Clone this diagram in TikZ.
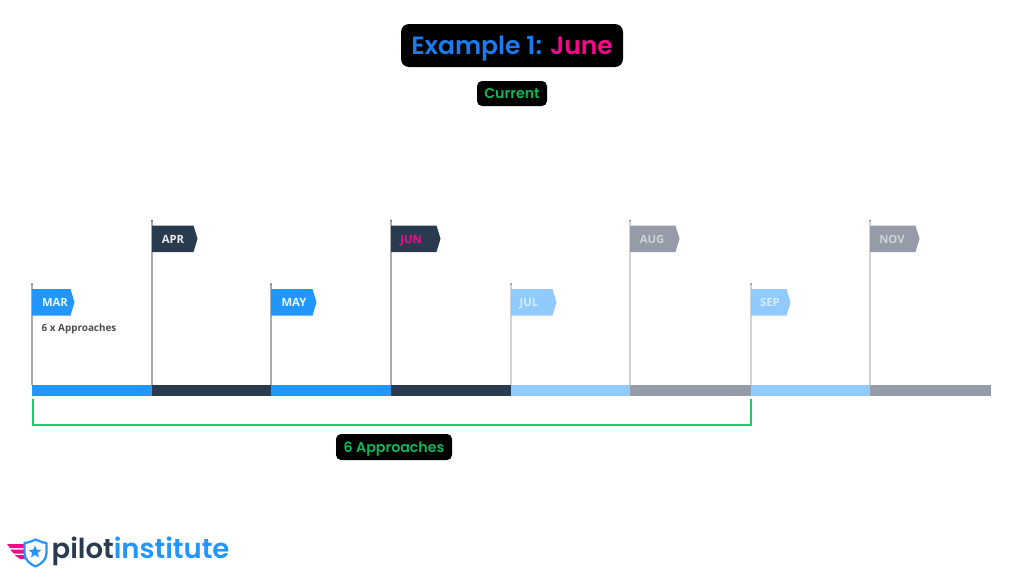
\documentclass[tikz,border=0pt]{standalone}
\usepackage{fontspec}
\setmainfont{Poppins}
\newfontfamily\flagfont{Open Sans}
\newfontfamily\heavyfont{Poppins SemiBold}
\usetikzlibrary{shapes.geometric}
\definecolor{skyblue}{HTML}{2196FF}
\definecolor{navy}{HTML}{2A3B50}
\definecolor{paleblue}{HTML}{90CAFF}
\definecolor{slate}{HTML}{959CA8}
\definecolor{titleblue}{HTML}{1A7BF0}
\definecolor{hotpink}{HTML}{F5088C}
\definecolor{tagGreen}{HTML}{10B75A}
\definecolor{braceGreen}{HTML}{18CC6C}
\definecolor{poleDark}{HTML}{ABABAB}
\definecolor{poleLight}{HTML}{D2D2D4}
\tikzset{
  tag/.style={fill=black,rounded corners=#1,inner sep=0pt,anchor=center},
  tag/.default=5pt,
  flagtext/.style={font=\flagfont\bfseries\fontsize{11.3}{13}\selectfont,inner sep=0pt,text height=8pt,text depth=0pt},
  pole/.style={line width=1.1pt},
  bracket/.style={draw=braceGreen,line width=2pt,line join=miter},
}
% month: key, pole x, flag top, flag tip x, colour, label colour, pole colour, label, label x
\newcommand{\monthflag}[9]{%
  \coordinate (top#1) at (#2,#3-5);
  \coordinate (foot#1) at (#2,385);
  \draw[pole,draw=#7] (top#1) -- (foot#1);
  \fill[#7!60!black] (top#1) circle (1);
  \fill[#5] (#2,#3) -- (#4-4,#3) -- (#4,#3+13.25) -- (#4-4,#3+26.5) -- (#2,#3+26.5) -- cycle;
  \node[flagtext,text=#6] (label#1) at (#9,#3+13.5) {#8};
}
\begin{document}
\begin{tikzpicture}[x=1pt,y=-1pt]
\useasboundingbox (0,0) rectangle (1024,576);
\fill[white] (0,0) rectangle (1024,576);

% heading tags
\node[tag=8pt,minimum width=222pt,minimum height=43pt] (title) at (512,45.5) {};
\node[inner sep=0pt,anchor=base] (titletext) at (512,54.5)
  {\fontsize{25}{30}\selectfont\heavyfont\textcolor{titleblue}{Example 1:} \textcolor{hotpink}{June}};
\node[tag=5pt,minimum width=70pt,minimum height=25pt] (current) at (512,93.5) {};
\node[inner sep=0pt,anchor=base] (currenttext) at (512,98.5)
  {\fontsize{14.2}{17}\selectfont\heavyfont\textcolor{tagGreen}{Current}};

% month flags
\monthflag{mar}{32}{289}{74.5}{skyblue}{white!90!skyblue}{poleDark}{MAR}{55}
\monthflag{apr}{152}{225.5}{197.5}{navy}{white!90!navy}{poleDark}{APR}{173}
\monthflag{may}{271}{289}{316.5}{skyblue}{white!90!skyblue}{poleDark}{MAY}{294}
\monthflag{jun}{391}{225.5}{440.5}{navy}{hotpink}{poleDark}{JUN}{411}
\monthflag{jul}{511}{289}{556.5}{paleblue}{white!65!paleblue}{poleLight}{JUL}{529}
\monthflag{aug}{630}{225.5}{679.5}{slate}{white!55!slate}{poleLight}{AUG}{652}
\monthflag{sep}{751}{289}{790.5}{paleblue}{white!65!paleblue}{poleLight}{SEP}{770}
\monthflag{nov}{870}{225.5}{919.5}{slate}{white!55!slate}{poleLight}{NOV}{892}

\node[anchor=west,inner sep=0pt,text=black!70,font=\flagfont\bfseries\fontsize{9.9}{11}\selectfont] (note) at (41.5,328.5) {6 x Approaches};

% timeline bar
\fill[skyblue]   (32,385)  rectangle (152,396);
\fill[navy]      (152,385) rectangle (271,396);
\fill[skyblue]   (271,385) rectangle (391,396);
\fill[navy]      (391,385) rectangle (511,396);
\fill[paleblue]  (511,385) rectangle (630,396);
\fill[slate]     (630,385) rectangle (751,396);
\fill[paleblue]  (751,385) rectangle (870,396);
\fill[slate]     (870,385) rectangle (991,396);

% span of the six approaches
\coordinate (spanA) at (32.5,398.5);
\coordinate (spanB) at (751,398.5);
\draw[bracket] (spanA) -- (32.5,424.5) -- (751,424.5) -- (spanB);
\node[tag=5pt,minimum width=116pt,minimum height=26pt] (span) at (394,447) {};
\node[inner sep=0pt,anchor=base] (spantext) at (394,452)
  {\fontsize{14.2}{17}\selectfont\heavyfont\textcolor{tagGreen}{6 Approaches}};

% logo: wings, shield, star, wordmark
\fill[hotpink] (7,544) -- (25,544) -- (25,548) -- (10,548) -- cycle;
\fill[hotpink] (10,549.5) -- (25,549.5) -- (25,553.5) -- (14,553.5) -- cycle;
\fill[hotpink] (14.5,555) -- (26,555) -- (27,559) -- (20,559) -- cycle;
\draw[skyblue,line width=2.2pt,fill=white,line join=round]
  (24.5,543) .. controls (29,542.5) and (32,541) .. (35.5,539.5)
  .. controls (39,541) and (42,542.5) .. (46.5,543)
  -- (46.5,553) .. controls (46.5,560) and (41,564) .. (35.5,566.5)
  .. controls (30,564) and (24.5,560) .. (24.5,553) -- cycle;
\node[star,star points=5,star point ratio=2.3,fill=skyblue,minimum size=13.5pt,inner sep=0pt] (logostar) at (35,552) {};
\node[anchor=base west,inner sep=0pt,font=\fontsize{27.5}{32}\selectfont\heavyfont] (word) at (51.5,558.5)
  {\textcolor{navy}{pilot}\textcolor{skyblue}{institute}};
\end{tikzpicture}
\end{document}
